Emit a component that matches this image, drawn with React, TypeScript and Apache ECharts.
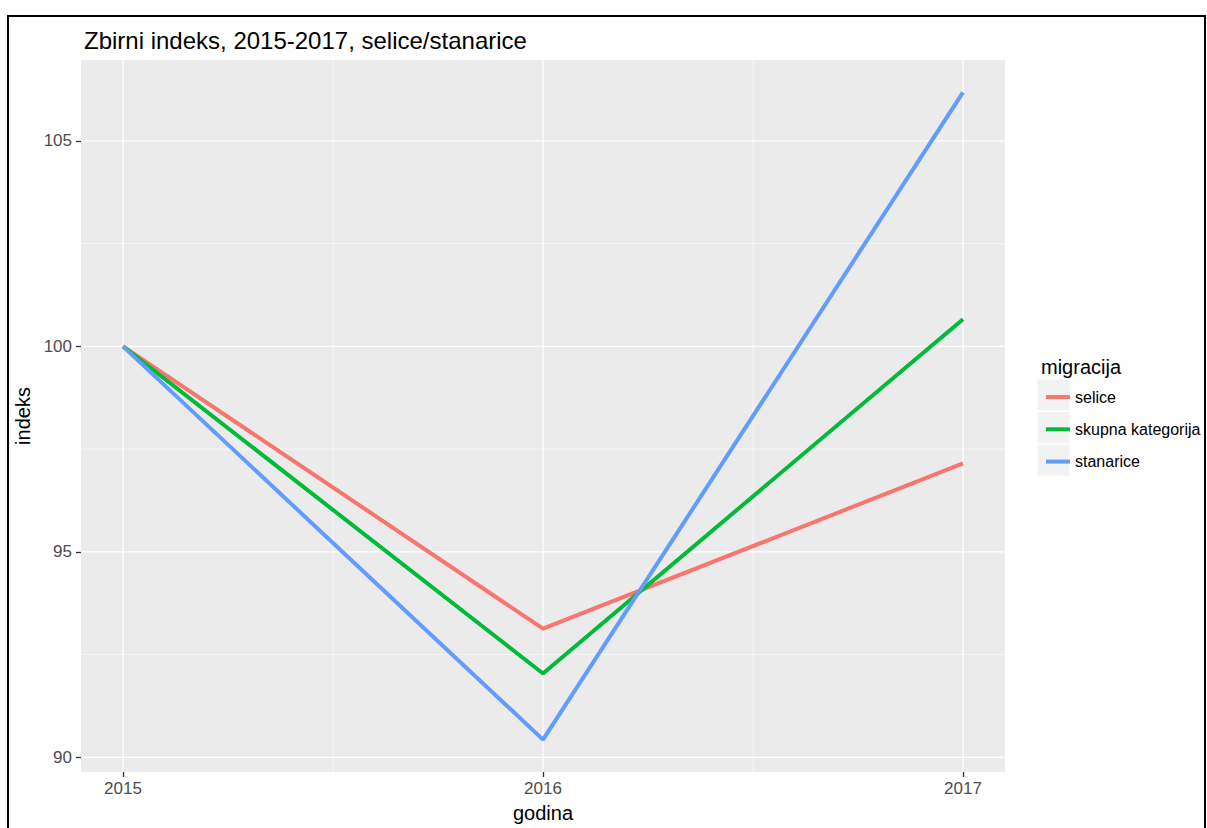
import React, { useEffect, useRef } from "react";
import * as echarts from "echarts";

const years = [2015, 2016, 2017];
const seriesNames = ["selice", "skupna kategorija", "stanarice"];
const selice = [100, 93.13, 97.15];
const skupna = [100, 92.04, 100.66];
const stanarice = [100, 90.43, 106.18];
const colors = ["#F8766D", "#00BA38", "#619CFF"];
const yTicks = [90, 95, 100, 105];
const yMinor = [92.5, 97.5, 102.5];
const xTicks = [2015, 2016, 2017];
const xMinor = [2015.5, 2016.5];

const FONT = "Liberation Sans, Arial, Helvetica, sans-serif";

export default function App() {
  const ref = useRef<HTMLDivElement>(null);
  useEffect(() => {
    if (!ref.current) return;
    const chart = echarts.init(ref.current, null, { renderer: "svg" });
    const all = [...selice, ...skupna, ...stanarice];
    const dmin = Math.min(...all);
    const dmax = Math.max(...all);
    const ex = (dmax - dmin) * 0.05;
    const xr = (years[years.length - 1] - years[0]) * 0.05;
    const xMin = years[0] - xr;
    const yMin = dmin - ex;
    const values = [selice, skupna, stanarice];

    // [x, y, kind (0 vertical, 1 horizontal), width]
    const gridData = [
      ...xMinor.map((v) => [v, yMin, 0, 0.6]),
      ...yMinor.map((v) => [xMin, v, 1, 0.6]),
      ...xTicks.map((v) => [v, yMin, 0, 1.3]),
      ...yTicks.map((v) => [xMin, v, 1, 1.3]),
    ];

    chart.setOption({
      animation: false,
      backgroundColor: "#ffffff",
      textStyle: { fontFamily: FONT },
      title: [
        {
          text: "Zbirni indeks, 2015-2017, selice/stanarice",
          left: 79,
          top: 23,
          textStyle: { fontFamily: FONT, fontSize: 24, fontWeight: "normal", color: "#000000" },
        },
        {
          text: "migracija",
          left: 1036,
          top: 352,
          textStyle: { fontFamily: FONT, fontSize: 20, fontWeight: "normal", color: "#000000" },
        },
      ],
      grid: {
        left: 81,
        right: 202,
        top: 60,
        bottom: 56,
        containLabel: false,
        outerBoundsMode: "none",
        show: true,
        backgroundColor: "#EBEBEB",
        borderWidth: 0,
      },
      legend: {
        orient: "vertical",
        left: 1041,
        top: 384,
        itemWidth: 24,
        itemHeight: 4,
        itemGap: 16.3,
        icon: "rect",
        data: seriesNames,
        textStyle: { fontFamily: FONT, fontSize: 16, color: "#000000", padding: [0, 0, 0, 0] },
      },
      graphic: [
        {
          type: "rect",
          shape: { x: 8, y: 16, width: 1197, height: 830 },
          style: { fill: "none", stroke: "#000000", lineWidth: 2 },
          z: 100,
          silent: true,
        },
        ...[0, 1, 2].map((i) => ({
          type: "rect",
          shape: { x: 1037, y: 379 + i * 32.5, width: 33, height: 32 },
          style: { fill: "#F2F2F2", stroke: "#ffffff", lineWidth: 1 },
          z: -1,
          silent: true,
        })),
      ],
      xAxis: {
        type: "value",
        min: xMin,
        max: years[years.length - 1] + xr,
        name: "godina",
        nameLocation: "middle",
        nameGap: 31,
        nameTextStyle: { fontFamily: FONT, fontSize: 20, color: "#000000" },
        axisLine: { show: false },
        axisTick: { show: true, customValues: xTicks, length: 5, lineStyle: { color: "#333333", width: 1.3 } },
        axisLabel: {
          customValues: xTicks,
          margin: 8,
          fontFamily: FONT,
          fontSize: 17,
          color: "#4D4D4D",
          formatter: (v: number) => String(Math.round(v)),
        },
        splitLine: { show: false },
      },
      yAxis: {
        type: "value",
        min: yMin,
        max: dmax + ex,
        name: "indeks",
        nameLocation: "middle",
        nameGap: 40,
        nameRotate: 90,
        nameTextStyle: { fontFamily: FONT, fontSize: 20, color: "#000000" },
        axisLine: { show: false },
        axisTick: { show: true, customValues: yTicks, length: 5, lineStyle: { color: "#333333", width: 1.3 } },
        axisLabel: {
          customValues: yTicks,
          margin: 9,
          fontFamily: FONT,
          fontSize: 17,
          color: "#4D4D4D",
          formatter: (v: number) => String(Math.round(v)),
        },
        splitLine: { show: false },
        splitArea: { show: false },
      },
      series: [
        {
          name: "__grid",
          type: "custom",
          z: 1,
          silent: true,
          clip: true,
          data: gridData,
          renderItem: (params: any, api: any) => {
            const cs = params.coordSys;
            const p = api.coord([api.value(0), api.value(1)]);
            const kind = api.value(2);
            const w = api.value(3);
            const shape =
              kind === 0
                ? { x1: p[0], y1: cs.y, x2: p[0], y2: cs.y + cs.height }
                : { x1: cs.x, y1: p[1], x2: cs.x + cs.width, y2: p[1] };
            return {
              type: "line",
              shape,
              style: { stroke: "#ffffff", lineWidth: w },
              silent: true,
            };
          },
        },
        ...seriesNames.map((name, i) => ({
          name,
          type: "line",
          z: 3,
          data: years.map((y, j) => [y, values[i][j]]),
          showSymbol: false,
          symbol: "none",
          color: colors[i],
          lineStyle: { color: colors[i], width: 4 },
        })),
      ],
    });
    return () => chart.dispose();
  }, []);

  return <div ref={ref} style={{ position: "fixed", left: 0, top: 0, width: 1207, height: 828 }} />;
}
